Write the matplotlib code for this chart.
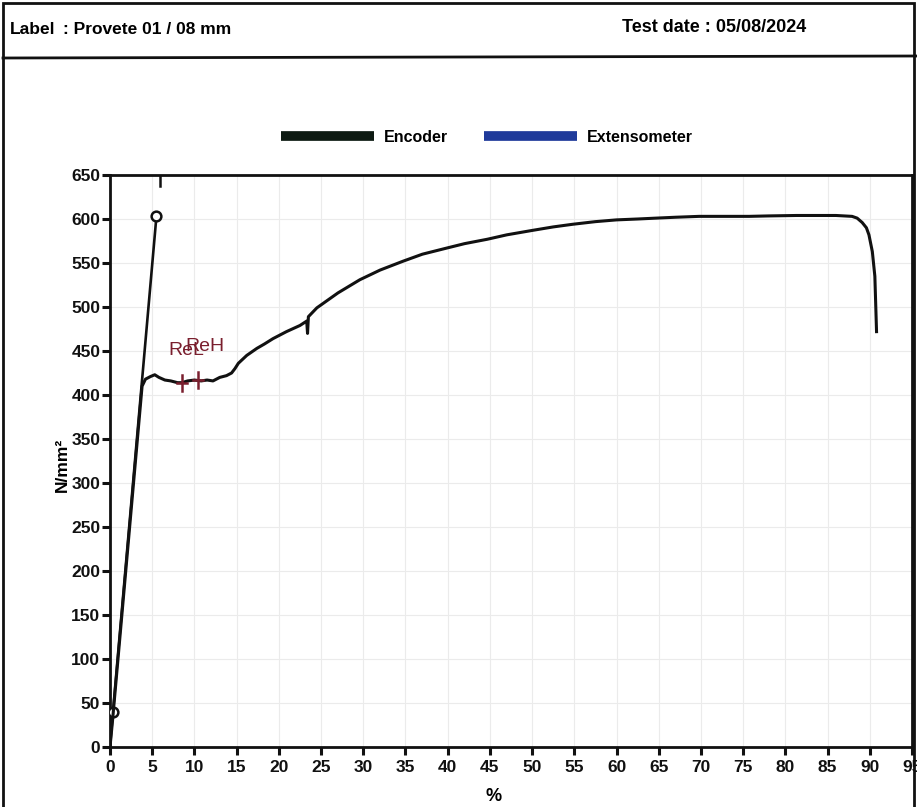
import matplotlib
matplotlib.use("Agg")
import matplotlib.pyplot as plt
from matplotlib.lines import Line2D
from matplotlib.patches import Rectangle

enc_x = [0.0, 0.3, 3.8, 4.2, 4.8, 5.3, 5.8, 6.5, 7.2, 8.0, 8.5, 9.2, 10.0,
         10.8, 11.5, 12.2, 13.0, 13.8, 14.4, 14.8, 15.2, 16.2, 17.4, 18.3,
         19.3, 20.9, 22.5, 23.3, 23.4, 23.5, 24.5, 27.0, 29.6, 32.0, 34.7,
         37.0, 39.9, 42.0, 44.7, 47.0, 50.0, 52.5, 54.8, 57.5, 60.0, 62.5,
         64.7, 67.0, 69.8, 72.5, 75.7, 78.0, 81.3, 84.0, 86.0, 87.9, 88.5,
         89.1, 89.6, 89.9, 90.3, 90.6, 90.8]
enc_y = [0, 30, 410, 418, 421, 423, 420, 417, 416, 414, 414, 416, 417,
         416, 417, 416, 420, 422, 425, 430, 436, 445, 453, 458,
         464, 472, 479, 484, 470, 489, 499, 516, 531, 542, 552,
         560, 567, 572, 577, 582, 587, 591, 594, 597, 599, 600,
         601, 602, 603, 603, 603, 603.5, 604, 604, 604, 603, 601,
         596, 590, 582, 563, 535, 472]

# modulus line with its two marked points
mod_x = [0.0, 0.35, 5.5]
mod_y = [0, 40, 603]

# yield points
rel_x, rel_y = 8.5, 414
reh_x, reh_y = 10.4, 417

x_ticks = list(range(0, 100, 5))
y_ticks = list(range(0, 700, 50))

# ── Style ─────────────────────────────────────────────────────────────────────
plt.rcParams["font.family"] = ["Liberation Sans", "DejaVu Sans"]
plt.rcParams["font.weight"] = "bold"
INK = "#111111"
RED = "#7a1f2e"
BLUE = "#1f3a9a"

fig = plt.figure(figsize=(9.17, 8.07), dpi=100)
fig.patch.set_facecolor("white")
ax = fig.add_axes([110 / 917, 1 - 747 / 807, 802 / 917, 572 / 807])

# ── Curves ────────────────────────────────────────────────────────────────────
ax.plot(mod_x, mod_y, color=INK, lw=1.9, marker="o", markevery=[1, 2],
        ms=7, mfc="white", mec=INK, mew=1.8, zorder=4)
ax.plot(enc_x, enc_y, color=INK, lw=2.2, zorder=5, solid_joinstyle="round")
enc_handle = Line2D([], [], color="#0d1a12", lw=7, solid_capstyle="butt",
                    label="Encoder")
ext_handle = Line2D([], [], color=BLUE, lw=7, solid_capstyle="butt",
                    label="Extensometer")

# small tick hanging from the top frame
ax.plot([5.9, 5.9], [637, 650], color=INK, lw=1.8, zorder=5)

# yield markers
for xx, yy in [(rel_x, rel_y), (reh_x, reh_y)]:
    ax.plot([xx, xx], [yy - 9, yy + 9], color=RED, lw=1.8, zorder=6)
    ax.plot([xx - 0.6, xx + 0.6], [yy, yy], color=RED, lw=1.8, zorder=6)
ax.text(6.9, 446, "ReL", color=RED, fontsize=14, fontweight="normal", zorder=7)
ax.text(8.9, 450, "ReH", color=RED, fontsize=14, fontweight="normal", zorder=7)

# ── Axes ──────────────────────────────────────────────────────────────────────
ax.set_xlim(0, 95)
ax.set_ylim(0, 650)
ax.set_xticks(x_ticks)
ax.set_yticks(y_ticks)
ax.grid(True, color="#ebebeb", lw=0.8)
ax.set_axisbelow(True)
for sp in ax.spines.values():
    sp.set_linewidth(2.0)
    sp.set_color(INK)
ax.tick_params(axis="both", length=6, width=2.2, color=INK, labelsize=12.5,
               labelcolor=INK)
ax.tick_params(axis="y", pad=1)
ax.tick_params(axis="x", pad=3)

ax.set_xlabel("%", fontsize=13, fontweight="bold")
ax.xaxis.set_label_coords(0.478, -0.072)
ax.set_ylabel("N/mm²", fontsize=12.5, fontweight="bold")
ax.yaxis.set_label_coords(-0.05, 0.493)

# ── Legend ────────────────────────────────────────────────────────────────────
fig.legend(handles=[enc_handle, ext_handle], loc="center",
           bbox_to_anchor=(487 / 917, 1 - 137 / 807), ncol=2, frameon=False,
           fontsize=11.5, handlelength=5.8, handletextpad=0.63,
           columnspacing=2.25)

# ── Header ────────────────────────────────────────────────────────────────────
fig.text(10 / 917, 1 - 30 / 807, "Label", fontsize=12.5, va="center")
fig.text(63 / 917, 1 - 30 / 807, ": Provete 01 / 08 mm", fontsize=12.5,
         va="center")
fig.text(622 / 917, 1 - 27 / 807, "Test date : 05/08/2024", fontsize=13,
         va="center")
fig.add_artist(Line2D([3 / 917, 1.0], [1 - 58 / 807, 1 - 56 / 807],
                      color=INK, lw=2.0, transform=fig.transFigure))
fig.add_artist(Rectangle((3 / 917, -0.01), 911 / 917, 1.0 - 3 / 807 + 0.01,
                         fill=False, ec=INK, lw=2.0,
                         transform=fig.transFigure))

fig.savefig("out.png", dpi=100, facecolor="white")
plt.close(fig)
